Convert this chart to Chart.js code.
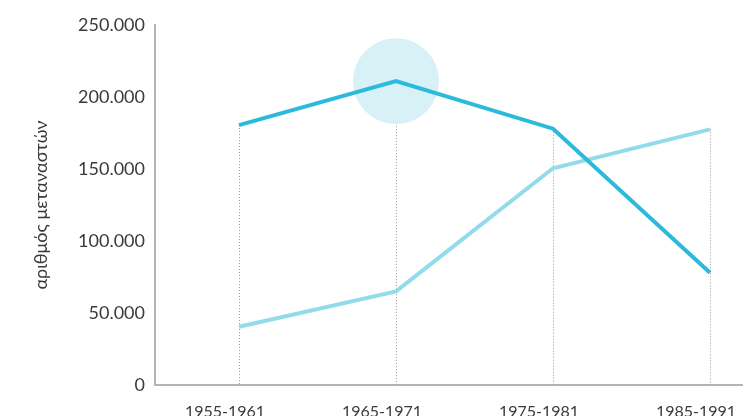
<!DOCTYPE html>
<html lang="el">
<head>
<meta charset="utf-8">
<script src="https://cdn.jsdelivr.net/npm/chart.js@4.4.1/dist/chart.umd.min.js"></script>
<style>
  html, body { margin: 0; padding: 0; background: #fff; }
  #wrap { width: 743px; height: 416px; position: relative; }
</style>
</head>
<body>
<div id="wrap"><canvas id="myChart"></canvas></div>
<script>
// periods on the x axis
const periods = ['1955-1961', '1965-1971', '1975-1981', '1985-1991'];
// two series
const seriesDark = [180500, 211000, 178000, 78000];
const seriesLight = [40500, 65000, 150500, 177500];
// highlighted point (index into periods)
const highlightIndex = 1;
// y ticks
const yTicks = [0, 50000, 100000, 150000, 200000, 250000];
const yTitle = 'αριθμός μεταναστών';

const FONT = 'Lato, "DejaVu Sans", sans-serif';
const TEXT = '#3a3a3a';
const AXIS = '#b4b4b4';

function fmt(v) {
  return String(v).replace(/\B(?=(\d{3})+(?!\d))/g, '.');
}

const toPoints = (arr) => arr.map((v, i) => ({ x: i, y: v }));

// dotted drop lines from the highest point of each period down to the axis
const dropLines = {
  id: 'dropLines',
  beforeDatasetsDraw(chart) {
    const { ctx, scales } = chart;
    const bottom = scales.y.getPixelForValue(0);
    ctx.save();
    ctx.strokeStyle = '#9a9a9a';
    ctx.lineWidth = 1;
    ctx.setLineDash([1, 2]);
    periods.forEach((p, i) => {
      const top = Math.max(seriesDark[i], seriesLight[i]);
      const x = Math.round(scales.x.getPixelForValue(i)) + 0.5;
      ctx.beginPath();
      ctx.moveTo(x, scales.y.getPixelForValue(top));
      ctx.lineTo(x, bottom);
      ctx.stroke();
    });
    ctx.restore();
  },
};

const data = {
  datasets: [
    {
      label: 'highlight',
      data: toPoints(seriesDark.map((v, i) => (i === highlightIndex ? v : null))),
      showLine: false,
      pointRadius: 43,
      pointHoverRadius: 43,
      pointBorderWidth: 0,
      pointBackgroundColor: '#d8f1f6',
      order: 3,
    },
    {
      label: 'light',
      data: toPoints(seriesLight),
      borderColor: '#92dbea',
      borderWidth: 4,
      pointRadius: 0,
      tension: 0,
      order: 2,
    },
    {
      label: 'dark',
      data: toPoints(seriesDark),
      borderColor: '#2bbadc',
      borderWidth: 4,
      pointRadius: 0,
      tension: 0,
      order: 1,
    },
  ],
};

const config = {
  type: 'line',
  data: data,
  plugins: [dropLines],
  options: {
    responsive: true,
    maintainAspectRatio: false,
    animation: false,
    layout: { autoPadding: false, padding: { top: 25, right: 0, left: 0, bottom: 0 } },
    plugins: {
      legend: { display: false },
      tooltip: { enabled: false },
    },
    scales: {
      x: {
        type: 'linear',
        min: -0.535,
        max: 3.21,
        afterBuildTicks: (scale) => {
          scale.ticks = periods.map((p, i) => ({ value: i }));
        },
        afterFit: (scale) => {
          scale.height = 31;
          scale.paddingLeft = 0;
          scale.paddingRight = 0;
        },
        grid: { display: false, drawTicks: false },
        border: { display: true, color: AXIS, width: 2 },
        ticks: {
          padding: 17,
          labelOffset: -14,
          maxRotation: 0,
          autoSkip: false,
          color: TEXT,
          font: { family: FONT, size: 16 },
          callback: (v) => periods[v],
        },
      },
      y: {
        min: 0,
        max: 250000,
        afterBuildTicks: (scale) => {
          scale.ticks = yTicks.map((v) => ({ value: v }));
        },
        afterFit: (scale) => {
          scale.width = 155;
          scale.paddingTop = 0;
          scale.paddingBottom = 0;
        },
        grid: { display: false, drawTicks: false },
        border: { display: true, color: AXIS, width: 2 },
        title: {
          display: true,
          text: yTitle,
          color: TEXT,
          font: { family: FONT, size: 18 },
          padding: { top: 30, bottom: 0 },
        },
        ticks: {
          padding: 10,
          color: TEXT,
          font: { family: FONT, size: 18 },
          callback: (v) => fmt(v),
        },
      },
    },
  },
};

const myChart = new Chart(document.getElementById('myChart'), config);
</script>
</body>
</html>
